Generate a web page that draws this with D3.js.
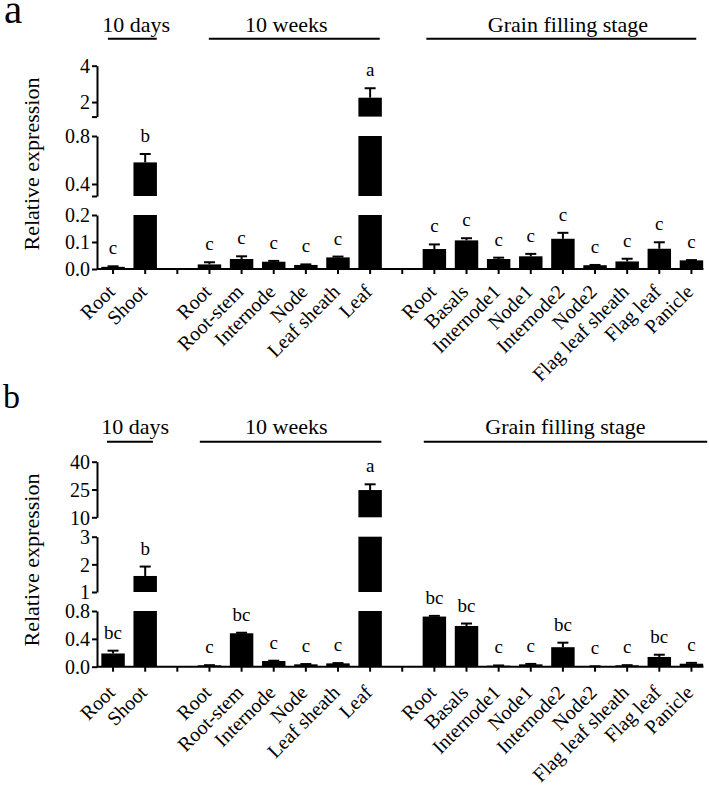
<!DOCTYPE html>
<html><head><meta charset="utf-8">
<script src="https://cdn.jsdelivr.net/npm/d3@7"></script>
<style>
body{margin:0;background:#fff}
text{font-family:"Liberation Serif","Times New Roman",serif;fill:#000}
</style>
</head><body>
<svg id="chart" width="709" height="787"></svg>
<script>
// ---------- data ----------
const categories = ["Root","Shoot","","Root","Root-stem","Internode","Node","Leaf sheath","Leaf","",
  "Root","Basals","Internode1","Node1","Internode2","Node2","Flag leaf sheath","Flag leaf","Panicle"];
const groupNames = ["10 days","10 weeks","Grain filling stage"];
const groupFirst = [0,3,10];
const groupLast  = [1,8,18];

// panel a
const aValues  = [0.008,0.58,null,0.017,0.037,0.027,0.015,0.043,2.24,null,0.074,0.106,0.037,0.047,0.112,0.014,0.028,0.075,0.032];
const aErrors  = [0.002,0.07,null,0.008,0.010,0.003,0.002,0.003,0.52,null,0.017,0.008,0.005,0.009,0.022,0.001,0.010,0.024,0.001];
const aLetters = ["c","b","","c","c","c","c","c","a","","c","c","c","c","c","c","c","c","c"];
const aSegDomains = [[0,0.2],[0.3,0.8],[1.2,4]];
const aTickValues = [[0,0.1,0.2],[0.3,0.4,0.8],[1.2,2,4]];
const aTickLabels = [["0.0","0.1","0.2"],["","0.4","0.8"],["","2","4"]];

// panel b
const bValues  = [0.19,1.58,null,0.02,0.48,0.082,0.034,0.048,24.7,null,0.72,0.585,0.015,0.034,0.28,0.005,0.02,0.14,0.043];
const bErrors  = [0.04,0.34,null,0.002,0.008,0.004,0.004,0.004,3.1,null,0.01,0.035,0.003,0.006,0.065,0.001,0.002,0.032,0.012];
const bLetters = ["bc","b","","c","bc","c","c","c","a","","bc","bc","c","c","bc","c","c","bc","c"];
const bSegDomains = [[0,0.8],[1,3],[10,40]];
const bTickValues = [[0,0.4,0.8],[1,2,3],[10,25,40]];
const bTickLabels = [["0.0","0.4","0.8"],["1","2","3"],["10","25","40"]];

// ---------- layout ----------
const svg = d3.select("#chart");
const x = d3.scaleBand().domain(d3.range(categories.length)).range([97,707.5])
  .paddingInner(0.27).paddingOuter(0.135);
const bw = x.bandwidth(), step = x.step();
const cx = i => x(i) + bw/2;

const panels = [
  {tag:"a", values:aValues, errors:aErrors, letters:aLetters, doms:aSegDomains, tv:aTickValues, tl:aTickLabels,
   y0:269, segPx:[54,60,50.9], gaps:[19,19.4], lineY:38.7, titleY:32, ylabY:164,
   lines:[[-0.16,0.36],[-0.02,0.30],[-0.25,0.15]], titleShift:[7,-3.5,5], xlabOff:24,
   tagX:4, tagY:23, tagSize:41},
  {tag:"b", values:bValues, errors:bErrors, letters:bLetters, doms:bSegDomains, tv:bTickValues, tl:bTickLabels,
   y0:666.7, segPx:[55.7,55.3,55.6], gaps:[19,19.4], lineY:441.7, titleY:434.3, ylabY:560,
   lines:[[-0.19,0.24],[-0.30,0.35],[-0.33,0.49]], titleShift:[6,-3.5,2.5], xlabOff:27,
   tagX:3, tagY:408, tagSize:34}
];

panels.forEach(p => {
  const g = svg.append("g");
  const segs = [];
  let bottom = p.y0;
  p.doms.forEach((d,k) => {
    const top = bottom - p.segPx[k];
    segs.push({dom:d, y:d3.scaleLinear().domain(d).range([bottom, top]), k});
    bottom = top - (p.gaps[k] || 0);
  });
  const segOf = v => segs.find(s => v >= s.dom[0] && v <= s.dom[1]) || segs.find(s => v < s.dom[0]);

  // y axes (broken)
  segs.forEach(s => {
    const ax = d3.axisLeft(s.y).tickValues(p.tv[s.k]).tickSize(5).tickSizeOuter(0)
      .tickFormat((v,i) => p.tl[s.k][i]);
    const ag = g.append("g").attr("transform","translate(97,0)").call(ax);
    ag.selectAll("path,line").attr("stroke","#000").attr("stroke-width",2);
    ag.selectAll("text").attr("font-size",20).attr("font-family","Liberation Serif").attr("x",-7).attr("dy","0.34em");
  });

  // bars, error bars, letters
  p.values.forEach((v,i) => {
    if (v == null) return;
    segs.forEach(s => {
      if (v <= s.dom[0]) return;
      const yt = s.y(Math.min(v, s.dom[1])), yb = s.y(s.dom[0]);
      g.append("rect").attr("x", x(i)).attr("width", bw).attr("y", yt).attr("height", yb - yt).attr("fill","#000");
    });
    const top = v + p.errors[i];
    const s = segOf(v);
    const yv = s.y(v), ye = s.y(Math.min(top, s.dom[1]));
    g.append("line").attr("x1",cx(i)).attr("x2",cx(i)).attr("y1",yv).attr("y2",ye).attr("stroke","#000").attr("stroke-width",2);
    g.append("line").attr("x1",cx(i)-5.5).attr("x2",cx(i)+5.5).attr("y1",ye).attr("y2",ye).attr("stroke","#000").attr("stroke-width",2);
    g.append("text").attr("x",cx(i)).attr("y",ye-12).attr("text-anchor","middle").attr("font-size",19).text(p.letters[i]);
  });

  // x axis
  const xa = d3.axisBottom(x).tickSize(5).tickSizeOuter(0).tickFormat(i => categories[i]);
  const xg = g.append("g").attr("transform",`translate(0,${p.y0})`).call(xa);
  xg.select(".domain").remove();
  xg.selectAll("line").attr("stroke","#000").attr("stroke-width",2);
  xg.selectAll("text").attr("font-size",20).attr("font-family","Liberation Serif")
    .attr("text-anchor","end").attr("y",null).attr("dy",null)
    .attr("transform",`translate(3,${p.xlabOff}) rotate(-45)`);
  g.append("line").attr("x1",97).attr("x2",cx(categories.length-1)+12).attr("y1",p.y0).attr("y2",p.y0)
    .attr("stroke","#000").attr("stroke-width",2);

  // group headers
  groupNames.forEach((name,j) => {
    const x1 = cx(groupFirst[j]) + p.lines[j][0]*step, x2 = cx(groupLast[j]) + p.lines[j][1]*step;
    g.append("line").attr("x1",x1).attr("x2",x2).attr("y1",p.lineY).attr("y2",p.lineY).attr("stroke","#000").attr("stroke-width",2);
    const mid = (cx(groupFirst[j]) + cx(groupLast[j]))/2 + p.titleShift[j];
    g.append("text").attr("x",mid).attr("y",p.titleY).attr("text-anchor","middle").attr("font-size",22).text(name);
  });

  // y label
  g.append("text").attr("transform",`translate(39,${p.ylabY}) rotate(-90)`).attr("text-anchor","middle")
    .attr("font-size",22).text("Relative expression");
  // panel tag
  g.append("text").attr("x",p.tagX).attr("y",p.tagY).attr("font-size",p.tagSize).text(p.tag);
});
</script>
</body></html>
